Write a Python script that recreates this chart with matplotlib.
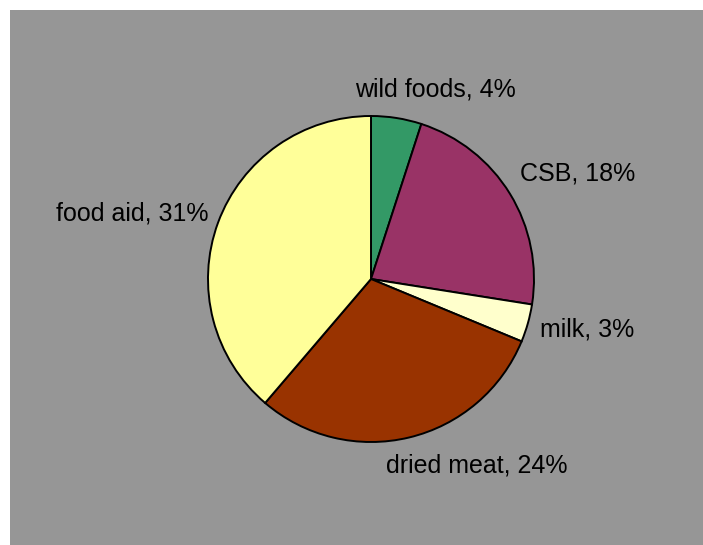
import matplotlib
matplotlib.use('Agg')
import matplotlib.pyplot as plt
from matplotlib.patches import Rectangle

# data
categories = ['wild foods', 'CSB', 'milk', 'dried meat', 'food aid']
values = [4, 18, 3, 24, 31]
colors = ['#339966', '#993366', '#FFFFCC', '#993300', '#FFFF99']

plt.rcParams['font.family'] = ['Liberation Sans', 'DejaVu Sans']

W, H = 703, 545
fig = plt.figure(figsize=(W/100, H/100), dpi=100, facecolor='white')
ax = fig.add_axes([0, 0, 1, 1])

# grey plot area
ax.add_patch(Rectangle((10, 0), W-10, H-10, facecolor='#969696',
                       edgecolor='none', zorder=0))

wedges, _ = ax.pie(values, colors=colors, startangle=90, counterclock=False,
                   center=(371, 266), radius=163,
                   wedgeprops=dict(edgecolor='black', linewidth=1.4))
for w in wedges:
  w.set_zorder(2)

# pie() resets the limits, so set them afterwards
ax.set_xlim(0, W)
ax.set_ylim(0, H)
ax.set_aspect('equal')
ax.axis('off')

# label positions (centre of text, pixel coords)
label_pos = [(435, 455), (578, 372), (587, 216), (477, 80), (132, 332)]
for cat, v, (lx, ly) in zip(categories, values, label_pos):
  ax.text(lx, ly, f'{cat}, {v}%', fontsize=18, ha='center', va='center',
          color='black', zorder=3)

fig.savefig('out.png', dpi=100, facecolor='white')
